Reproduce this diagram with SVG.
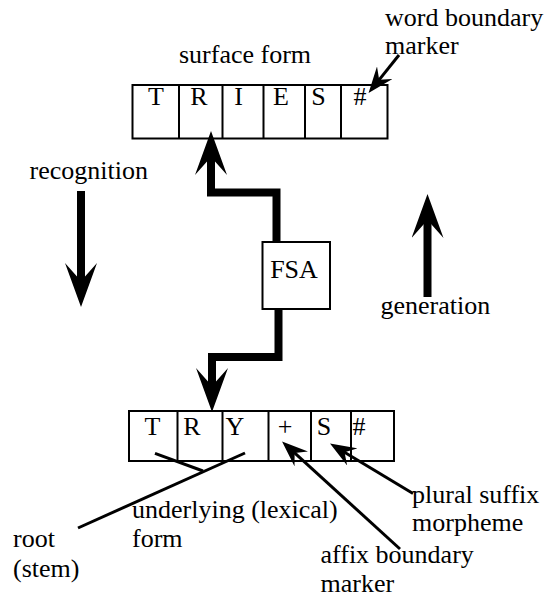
<svg xmlns="http://www.w3.org/2000/svg" width="548" height="598" viewBox="0 0 548 598" font-family="'Liberation Serif', 'Times New Roman', serif">
<style>
text{font-family:"Liberation Serif","Times New Roman",serif;font-size:26px;fill:#000}
.c{text-anchor:middle}
.box{fill:#fff;stroke:#000;stroke-width:2}
.div{stroke:#000;stroke-width:2}
.thick{fill:none;stroke:#000;stroke-width:8;stroke-linejoin:miter}
.thin{fill:none;stroke:#000;stroke-width:3}
</style>
<defs>
<marker id="bigHead" markerUnits="userSpaceOnUse" viewBox="0 0 44 32" refX="20" refY="16" markerWidth="44" markerHeight="32" orient="auto">
<path d="M44,16 L0,0 L18,16 L0,32 Z" fill="#000"/>
</marker>
<marker id="smallHead" markerUnits="userSpaceOnUse" viewBox="0 0 26 20" refX="12" refY="10" markerWidth="26" markerHeight="20" orient="auto">
<path d="M26,10 L0,0 L9,10 L0,20 Z" fill="#000"/>
</marker>
</defs>
<rect width="548" height="598" fill="#fff"/>

<g id="surface-form">
<rect class="box" x="132.5" y="85" width="255" height="53.5"/>
<path class="div" d="M179,85 V138.5 M222.5,85 V138.5 M263.5,85 V138.5 M305,85 V138.5 M341,85 V138.5"/>
<text class="c" x="156" y="105">T</text>
<text class="c" x="199" y="105">R</text>
<text class="c" x="238.5" y="105">I</text>
<text class="c" x="281" y="105">E</text>
<text class="c" x="318.5" y="105">S</text>
<text class="c" x="360" y="105">#</text>
</g>

<g id="lexical-form">
<rect class="box" x="129" y="411" width="265" height="50"/>
<path class="div" d="M177.5,411 V461 M222.5,411 V461 M268.5,411 V461 M311,411 V461 M351,411 V461"/>
<text class="c" x="152.5" y="435">T</text>
<text class="c" x="192" y="435">R</text>
<text class="c" x="235" y="435">Y</text>
<text class="c" x="285" y="435">+</text>
<text class="c" x="324" y="435">S</text>
<text class="c" x="359" y="435">#</text>
</g>

<g id="fsa">
<rect class="box" x="262.5" y="242" width="67.5" height="67"/>
<text class="c" x="294" y="278">FSA</text>
</g>

<g id="label-surface-form"><text x="179" y="63">surface form</text></g>
<g id="label-word-boundary"><text x="385" y="26">word boundary</text><text x="385" y="54">marker</text></g>
<g id="label-recognition"><text x="29.5" y="179">recognition</text></g>
<g id="label-generation"><text x="380.5" y="314">generation</text></g>
<g id="label-underlying"><text x="132" y="518">underlying (lexical)</text><text x="132" y="547">form</text></g>
<g id="label-root"><text x="13" y="547">root</text><text x="13" y="577">(stem)</text></g>
<g id="label-plural"><text x="412" y="503">plural suffix</text><text x="412" y="531">morpheme</text></g>
<g id="label-affix"><text x="320.5" y="563">affix boundary</text><text x="320.5" y="592">marker</text></g>

<g id="connectors">
<path class="thick" d="M81,191 V283" marker-end="url(#bigHead)"/>
<path class="thick" d="M427.5,297 V218" marker-end="url(#bigHead)"/>
<path class="thick" d="M276.5,242 V192.5 H211 V155" marker-end="url(#bigHead)"/>
<path class="thick" d="M278.5,310 V357 H212 V388" marker-end="url(#bigHead)"/>
<path class="thin" d="M399,55 L377.3,82.1" marker-end="url(#smallHead)"/>
<path class="thin" d="M400,549 L292.4,450.9" marker-end="url(#smallHead)"/>
<path class="thin" d="M413,493.5 L342,450.7" marker-end="url(#smallHead)"/>
<path class="thin" d="M78,528 L245,453"/>
<path class="thin" d="M155,453.3 L203,471"/>
</g>
</svg>
